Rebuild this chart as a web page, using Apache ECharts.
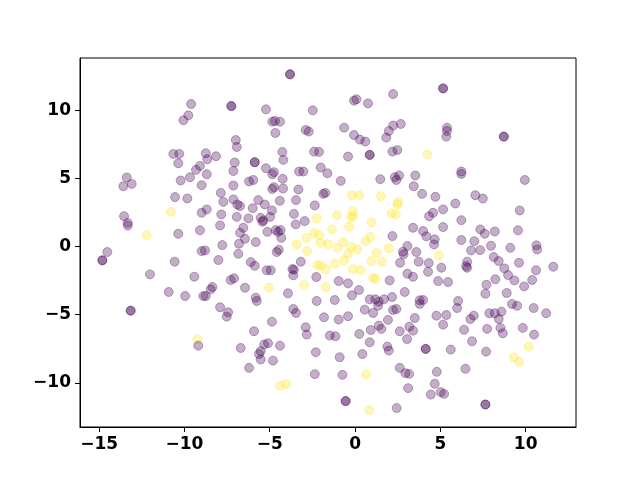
<!DOCTYPE html>
<html>
<head>
<meta charset="utf-8">
<script src="https://cdn.jsdelivr.net/npm/echarts@6/dist/echarts.min.js"></script>
<style>
  html, body { margin: 0; padding: 0; background: #fff; }
  #chart { width: 640px; height: 480px; }
</style>
</head>
<body>
<div id="chart"></div>
<script>
// class 0 points (purple), [x, y]
const purplePts = [
  [-9.61,10.46],[-9.77,9.63],[-10.06,9.27],[-10.65,6.80],[-10.30,6.80],[-10.36,6.12],[-9.09,5.92],[-9.32,5.63],
  [-9.67,5.09],[-10.22,4.85],[-13.38,5.07],
  [-3.81,12.64],[-3.81,12.64],[-7.25,10.31],[-7.25,10.31],[-5.22,10.07],[-2.48,10.0],[-4.85,9.17],[-4.69,9.22],
  [-4.40,9.17],[-4.67,8.34],[-2.89,8.56],[-2.71,8.44],[-6.99,7.82],[-6.93,7.31],[-4.26,6.95],[-4.20,6.36],
  [-2.40,6.97],[-2.11,6.95],[-8.75,6.85],[-8.66,6.41],[-8.15,6.63],[-7.05,6.17],[-7.13,5.55],[-5.88,6.19],
  [-5.88,6.19],[-5.22,5.75],[-4.85,5.31],[-4.75,5.46],[-4.24,4.97],[-3.28,5.51],[-3.03,5.51],[-2.01,5.80],
  [-1.62,5.38],[-8.69,5.31],[-6.21,4.78],[-5.96,4.89],
  [-7.13,4.48],[-4.75,4.36],[-4.85,4.23],[-4.22,4.26],[-3.32,4.19],[-1.86,3.87],[-1.74,3.94],[-7.87,3.94],
  [-7.13,3.46],[-6.90,3.09],[-6.74,2.97],[-7.72,3.28],[-8.69,2.73],[-6.00,2.82],[-5.67,3.41],[-5.29,3.09],
  [-4.41,3.36],[-3.46,3.41],[-2.36,3.02],[-4.87,2.65],[-4.98,2.18],[-3.58,2.40],[-7.84,2.36],[-6.93,2.18],
  [-6.25,2.07],[-5.53,2.11],[-5.43,1.82],[-5.38,1.92],[-3.48,1.63],[-2.95,1.87],[-7.91,1.55],[-6.55,1.38],
  [-6.74,1.01],[-5.14,1.08],[-4.65,1.21],[-4.51,1.08],[-4.36,1.21],[-4.32,0.64],[-6.45,0.57],[-5.82,0.33],
  [-6.80,0.21],[-7.78,0.11],[-8.79,-0.28],[-6.84,-0.53],[-4.59,-0.40],[-4.47,-0.23],[-8.01,-0.99],[-6.11,-1.14],
  [-5.88,-1.41],[-5.18,-1.74],[-4.94,-1.74],[-3.18,-1.11],[-3.67,-1.65],[-3.58,-1.70],[-3.62,-2.11],[-2.27,-2.23],
  [-7.29,-2.45],[-7.09,-2.33],[-6.45,-3.02],[-3.93,-3.43],[-8.36,-2.97],[-8.46,-3.14],[-8.75,-3.63],[-5.82,-3.75],
  [-5.76,-3.99],[-2.25,-3.99],
  [-13.58,4.43],[-13.09,4.60],[-8.99,4.51],[-10.55,3.63],[-9.83,3.53],[-13.54,2.23],[-13.32,1.74],[-13.32,1.55],
  [-10.36,0.94],[-8.99,2.48],[-9.09,1.19],[-8.99,-0.33],[-14.52,-0.40],[-14.81,-1.01],[-14.81,-1.01],[-10.57,-1.11],
  [-12.02,-2.04],[-9.42,-2.21],[-10.92,-3.33],[-9.96,-3.63],[-8.89,-3.63],
  [-13.15,-4.70],[-13.15,-4.70],[-9.19,-7.27],
  [-7.91,-4.45],[-7.44,-4.82],[-7.52,-5.14],[-3.62,-4.58],[-3.46,-4.87],[-1.82,-5.19],[-4.87,-5.51],[-2.89,-5.92],
  [-2.83,-6.46],[-5.92,-6.21],[-6.70,-7.44],[-5.33,-7.19],[-5.10,-7.09],[-4.40,-7.27],[-5.63,-7.88],[-5.53,-7.68],
  [-5.53,-8.29],[-4.81,-8.37],[-2.30,-7.75],[-6.21,-8.90],[-2.36,-9.36],
  [0.57,-4.63],[1.06,-4.87],[1.35,-4.34],[2.23,-4.65],[2.42,-4.58],[-0.96,-5.36],[-0.41,-5.11],[1.93,-5.38],
  [3.50,-5.24],[3.79,-4.21],[4.77,-5.07],[5.35,-5.02],[5.16,-5.73],[0.92,-6.12],[1.39,-5.80],[1.54,-6.04],
  [2.62,-6.21],[3.18,-5.88],[3.40,-6.17],[-1.48,-6.53],[-1.15,-6.58],[0.25,-6.41],[3.05,-6.78],[0.86,-7.02],
  [1.89,-7.34],[1.98,-7.63],[4.14,-7.51],[4.14,-7.51],[5.61,-7.56],[0.43,-7.88],[-0.90,-8.12],[2.62,-8.90],
  [2.95,-9.29],[3.17,-9.34],[4.79,-9.19],[-0.74,-9.41],[3.11,-10.39],[4.67,-10.07],[5.02,-10.68],[5.22,-10.81],
  [4.44,-10.86],[-0.55,-11.34],[-0.55,-11.34],[2.44,-11.85],
  [5.98,-4.51],[6.76,-5.31],[6.96,-5.07],[7.87,-4.89],[8.19,-4.89],[8.58,-4.78],[8.42,-5.31],[9.20,-4.21],
  [9.50,-4.34],[10.47,-4.51],[11.20,-4.89],[6.39,-6.10],[7.74,-6.04],[8.52,-5.97],[8.66,-6.36],[9.83,-5.97],
  [10.49,-6.46],[6.86,-6.95],[7.68,-7.71],[6.47,-8.97],[7.64,-11.59],[7.64,-11.59],
  [5.16,11.61],[5.16,11.61],[2.23,11.19],[-0.06,10.71],[0.08,10.81],[0.76,10.51],[-0.64,8.73],[-0.06,8.19],
  [0.28,7.85],[0.60,7.71],[-0.41,6.61],[0.86,6.73],[0.86,6.73],[2.23,8.88],[2.68,9.00],[1.98,8.48],
  [1.83,8.00],[2.19,6.97],[2.48,7.09],[5.39,8.73],[5.39,8.48],[5.35,8.07],[-0.84,4.82],[1.48,4.95],
  [2.33,5.09],[2.58,5.22],[2.42,4.89],[3.53,5.22],
  [8.72,8.07],[8.72,8.07],[6.23,5.51],[6.23,5.33],[9.95,4.89],
  [3.44,4.43],[3.93,3.87],[4.71,3.65],[5.16,2.73],[4.57,2.48],[4.34,2.23],[3.40,1.38],[3.99,1.14],
  [4.18,0.75],[5.16,1.43],[4.67,0.53],[4.63,0.16],[2.19,0.77],[3.07,0.04],[2.81,-0.38],[2.85,-0.57],
  [3.59,-0.40],[2.64,-1.19],[3.73,-1.11],[4.32,-1.21],[5.06,-1.55],[3.07,-1.99],[3.40,-2.21],[4.28,-1.85],
  [2.03,-2.48],[-0.96,-2.53],[-0.41,-2.70],[0.23,-3.19],[-0.18,-3.58],[2.91,-3.33],[4.87,-2.53],[5.45,-2.60],
  [-1.19,-3.92],[0.86,-3.87],[1.19,-3.87],[1.39,-4.04],[1.70,-3.87],[2.17,-3.70],[3.79,-3.94],[3.99,-3.92],
  [7.05,3.77],[7.49,3.53],[5.88,3.16],[9.65,2.65],[6.23,1.94],[7.34,1.26],[7.60,0.94],[8.19,1.11],
  [9.55,1.19],[6.23,0.48],[6.99,0.40],[7.97,0.06],[9.10,-0.09],[10.63,0.09],[10.67,-0.21],[6.80,-0.28],
  [7.33,-0.26],[8.13,-0.77],[8.42,-1.06],[6.57,-1.11],[6.51,-1.43],[6.57,-1.55],[9.61,-1.19],[8.75,-1.60],
  [8.97,-2.09],[11.62,-1.48],[10.61,-1.74],[10.38,-2.45],[9.34,-2.48],[9.91,-2.92],[8.22,-2.40],[7.70,-2.80],
  [7.64,-3.46],[8.89,-3.41],[6.04,-3.99]
];

// class 1 points (yellow), [x, y]
const yellowPts = [
  [-10.79,2.55],[-12.21,0.84],[-9.24,-6.80],[-4.40,-10.22],[-4.04,-10.10],[0.66,-9.39],[0.84,-12.0],[10.18,-7.34],
  [9.30,-8.12],[9.61,-8.46],[4.24,6.75],[-2.25,2.07],[-2.40,1.01],[-2.11,0.84],[-2.85,0.64],[-3.42,0.16],
  [-2.01,0.28],[-1.58,0.18],[-2.80,-0.33],[-2.21,-1.36],[-2.01,-1.38],[-1.72,-1.67],[-5.04,-3.02],[-2.99,-2.84],
  [-1.72,-2.97],[-0.18,3.75],[0.23,3.77],[1.51,3.70],[2.52,3.26],[2.48,3.09],[-0.12,2.60],[-0.22,2.16],
  [-0.12,2.23],[-1.06,2.31],[2.13,2.45],[2.39,2.36],[0.96,1.79],[-0.35,1.45],[-1.35,1.26],[0.90,0.70],
  [0.63,0.40],[-0.70,0.33],[-1.04,-0.09],[-0.22,-0.04],[0.13,-0.21],[1.98,-0.13],[-0.41,-0.53],[1.25,-0.45],
  [4.92,-0.64],[-0.64,-1.01],[0.96,-1.06],[1.58,-1.11],[-1.19,-1.26],[-0.12,-1.67],[0.33,-1.74],[1.06,-2.29],
  [1.21,-2.40]
];

const tickValues = [-15, -10, -5, 0, 5, 10];
const xRange = [-16.12, 12.95];
const yRange = [-13.24, 13.84];

const chart = echarts.init(document.getElementById('chart'));

const labelStyle = {
  color: '#000',
  fontFamily: 'DejaVu Sans',
  fontWeight: 'bold',
  fontSize: 17,
  margin: 9,
  customValues: tickValues,
  formatter: v => String(v).replace('-', '\u2212')
};

function axis(range) {
  return {
    type: 'value',
    min: range[0],
    max: range[1],
    axisLine: { show: true, onZero: false, lineStyle: { color: '#000', width: 1 } },
    axisTick: { show: true, inside: false, length: 5, customValues: tickValues, lineStyle: { color: '#000', width: 1 } },
    axisLabel: labelStyle,
    splitLine: { show: false }
  };
}

chart.setOption({
  animation: false,
  grid: { left: 80, top: 58, width: 496, height: 369, show: true, borderColor: '#000', borderWidth: 1 },
  xAxis: axis(xRange),
  yAxis: axis(yRange),
  series: [
    {
      type: 'scatter',
      symbolSize: 9,
      data: yellowPts,
      itemStyle: { color: 'rgba(253,231,37,0.4)', borderColor: 'rgba(253,231,37,0.4)', borderWidth: 1 }
    },
    {
      type: 'scatter',
      symbolSize: 9,
      data: purplePts,
      itemStyle: { color: 'rgba(68,1,84,0.4)', borderColor: 'rgba(68,1,84,0.4)', borderWidth: 1 }
    }
  ]
});
</script>
</body>
</html>
